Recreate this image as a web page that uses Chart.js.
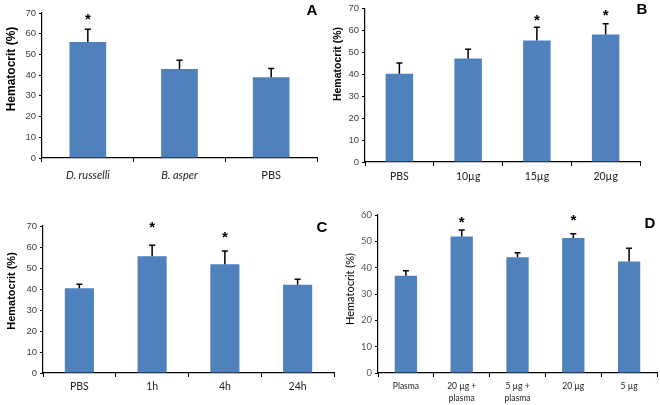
<!DOCTYPE html>
<html>
<head>
<meta charset="utf-8">
<script src="https://cdn.jsdelivr.net/npm/chart.js@4"></script>
<style>
  body { margin: 0; background: #fff; }
  #page { position: relative; width: 660px; height: 405px; overflow: hidden; background: #fff; }
  .panel { position: absolute; }
  .ytitle { position: absolute; white-space: nowrap; transform: translate(-50%, -50%) rotate(-90deg); color: #000; }
  .letter { position: absolute; transform: translate(-50%, -50%); font: bold 15px "Liberation Sans", Arial, sans-serif; color: #000; }
</style>
</head>
<body>
<div id="page">
  <div class="panel" style="left:0;top:0"><canvas id="chartA" width="330" height="200"></canvas></div>
  <div class="panel" style="left:330px;top:0"><canvas id="chartB" width="330" height="200"></canvas></div>
  <div class="panel" style="left:0;top:200px"><canvas id="chartC" width="336" height="205"></canvas></div>
  <div class="panel" style="left:330px;top:200px"><canvas id="chartD" width="330" height="205"></canvas></div>

  <div class="ytitle" style="left:11px;top:69px;font:bold 12px 'Liberation Sans',Arial,sans-serif">Hematocrit (%)</div>
  <div class="ytitle" style="left:337px;top:64px;font:bold 10.5px 'Liberation Sans',Arial,sans-serif">Hematocrit (%)</div>
  <div class="ytitle" style="left:11px;top:291px;font:bold 11px 'Liberation Sans',Arial,sans-serif">Hematocrit (%)</div>
  <div class="ytitle" style="left:349px;top:289px;font:11px Lato,sans-serif">Hematocrit (%)</div>

  <div class="letter" style="left:312px;top:9px">A</div>
  <div class="letter" style="left:642px;top:8px">B</div>
  <div class="letter" style="left:322px;top:226px">C</div>
  <div class="letter" style="left:650px;top:222px">D</div>
</div>

<script>
// ========== DATA ==========
const labelsA = ['D. russelli', 'B. asper', 'PBS'];
const valuesA = [56, 43, 39];
const errorsA = [6.1, 4.2, 4.2];
const starsA = [68, null, null];

const labelsB = ['PBS', '10µg', '15µg', '20µg'];
const valuesB = [40.3, 47.3, 55.5, 58.2];
const errorsB = [4.9, 4.2, 6.0, 4.9];
const starsB = [null, null, 65.6, 68.2];

const labelsC = ['PBS', '1h', '4h', '24h'];
const valuesC = [40.3, 55.6, 51.8, 42.0];
const errorsC = [2.0, 5.2, 6.3, 2.7];
const starsC = [null, 70.5, 65.7, null];

const labelsD = ['Plasma', ['20 µg +', 'plasma'], ['5 µg +', 'plasma'], '20 µg', '5 µg'];
const valuesD = [36.9, 51.8, 44.0, 51.3, 42.3];
const errorsD = [1.9, 2.5, 1.7, 1.6, 5.1];
const starsD = [null, 58.2, null, 58.9, null];

const BAR_COLOR = '#4F81BD';

// ========== ERROR BARS + ASTERISKS ==========
const errorBarPlugin = {
    id: 'errorBars',
    afterDatasetsDraw(chart, args, opts) {
        const ctx = chart.ctx;
        const y = chart.scales.y;
        const values = chart.data.datasets[0].data;
        const meta = chart.getDatasetMeta(0);
        ctx.save();
        ctx.strokeStyle = '#000';
        ctx.lineWidth = 1.5;
        meta.data.forEach((bar, i) => {
            const yBase = y.getPixelForValue(values[i]);
            const yTop = y.getPixelForValue(values[i] + opts.sd[i]);
            ctx.beginPath();
            ctx.moveTo(bar.x, yBase);
            ctx.lineTo(bar.x, yTop);
            ctx.moveTo(bar.x - 3, yTop);
            ctx.lineTo(bar.x + 3, yTop);
            ctx.stroke();
            if (opts.stars[i] != null) {
                ctx.font = 'bold 15px "Liberation Sans", Arial, sans-serif';
                ctx.fillStyle = '#000';
                ctx.textAlign = 'center';
                ctx.textBaseline = 'alphabetic';
                const m = ctx.measureText('*');
                const cy = y.getPixelForValue(opts.stars[i]);
                ctx.fillText('*', bar.x, cy + (m.actualBoundingBoxAscent - m.actualBoundingBoxDescent) / 2);
            }
        });
        ctx.restore();
    }
};

function makeChart(id, labels, values, errors, stars, geo) {
    const ctx = document.getElementById(id).getContext('2d');
    return new Chart(ctx, {
        type: 'bar',
        data: {
            labels: labels,
            datasets: [{
                data: values,
                backgroundColor: BAR_COLOR,
                borderWidth: 0,
                categoryPercentage: 1,
                barPercentage: 0.4
            }]
        },
        options: {
            responsive: false,
            animation: false,
            devicePixelRatio: 1,
            events: [],
            layout: { padding: { left: 0, top: geo.top, right: geo.w - geo.right, bottom: 0 } },
            plugins: {
                legend: { display: false },
                tooltip: { enabled: false },
                errorBars: { sd: errors, stars: stars }
            },
            scales: {
                x: {
                    afterFit: s => { s.height = geo.h - geo.bottom; },
                    grid: { drawOnChartArea: false, drawTicks: true, tickLength: 4, color: '#000', offset: true },
                    border: { display: true, color: '#000', width: 1.2 },
                    ticks: {
                        color: '#222',
                        padding: geo.xPad,
                        maxRotation: 0,
                        autoSkip: false,
                        font: c => ({
                            family: 'Lato, sans-serif',
                            size: geo.xFont,
                            style: (geo.italic && geo.italic.includes(c.index)) ? 'italic' : 'normal',
                            lineHeight: 1.4
                        })
                    }
                },
                y: {
                    min: 0,
                    max: geo.max,
                    afterFit: s => { s.width = geo.left; },
                    grid: { drawOnChartArea: false, drawTicks: true, tickLength: 3, color: '#000' },
                    border: { display: true, color: '#000', width: 1.2 },
                    ticks: {
                        stepSize: 10,
                        padding: 3,
                        color: geo.yColor,
                        font: { family: geo.yFamily, size: geo.yFont }
                    }
                }
            }
        },
        plugins: [errorBarPlugin]
    });
}

document.addEventListener('DOMContentLoaded', function() {
    const arial = '"Liberation Sans", Arial, sans-serif';
    makeChart('chartA', labelsA, valuesA, errorsA, starsA,
        { w: 330, h: 200, left: 42, right: 317, top: 13, bottom: 158, max: 70, xPad: 6, xFont: 11, italic: [0, 1], yFamily: arial, yFont: 9.5, yColor: '#404040' });
    makeChart('chartB', labelsB, valuesB, errorsB, starsB,
        { w: 330, h: 200, left: 35, right: 310, top: 5, bottom: 162, max: 70, xPad: 3, xFont: 10.5, yFamily: arial, yFont: 9.5, yColor: '#404040' });
    makeChart('chartC', labelsC, valuesC, errorsC, starsC,
        { w: 336, h: 205, left: 43, right: 334, top: 26, bottom: 173, max: 70, xPad: 2, xFont: 10.5, yFamily: arial, yFont: 9.5, yColor: '#404040' });
    makeChart('chartD', labelsD, valuesD, errorsD, starsD,
        { w: 330, h: 205, left: 48, right: 327, top: 15, bottom: 173, max: 60, xPad: 3, xFont: 8.5, yFamily: 'Lato, sans-serif', yFont: 9.5, yColor: '#555' });
});
</script>
</body>
</html>
